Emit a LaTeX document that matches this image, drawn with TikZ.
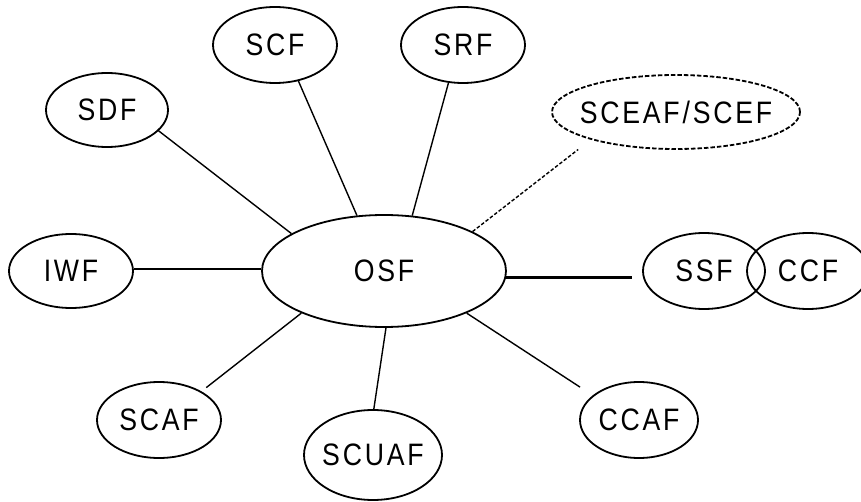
\documentclass[tikz,border=0pt]{standalone}
\usepackage{fontspec}
\setmainfont{Liberation Sans}[FakeStretch=0.86, LetterSpace=9]
\usetikzlibrary{shapes.geometric}

\tikzset{
  fname/.style={font=\fontsize{31}{33}\selectfont, inner sep=0pt},
  func/.style={ellipse, draw, line width=1.8pt, minimum width=124pt,
    minimum height=76pt, label={[fname]center:#1}},
  link/.style={line width=1.4pt},
  bus/.style={line width=2.4pt},
}

\begin{document}
\begin{tikzpicture}[x=1pt, y=-1pt]
\useasboundingbox (0,0) rectangle (861,502);

% Central function
\node[func=OSF, minimum width=244pt, minimum height=112pt] (osf) at (384,271) {};

% Functions around it
\node[func=SCF] (scf) at (275,45) {};
\node[func=SRF] (srf) at (463,45) {};
\node[func=SDF, minimum width=122pt, minimum height=74pt] (sdf) at (107,110) {};
\node[func=SCEAF/SCEF, dash pattern=on 4.5pt off 2pt, minimum width=248pt,
  minimum height=74pt] (scef) at (676,112) {};
\node[func=IWF, minimum height=74pt] (iwf) at (71,271) {};
\node[func=SSF, minimum width=122pt] (ssf) at (704,271) {};
\node[func=CCF, minimum width=122pt] (ccf) at (808,271) {};
\node[func=SCAF] (scaf) at (159,420) {};
\node[func=SCUAF, minimum width=138pt, minimum height=90pt] (scuaf) at (373,455) {};
\node[func=CCAF, minimum width=118pt] (ccaf) at (639,420) {};

% Spokes: angle on OSF / node / angle on node / gap
\foreach \a/\n/\b/\s in {116/scf/303/0, 63/srf/249/0, 158/sdf/338/0,
                         207/scaf/34/6, 272/scuaf/89/0, 333/ccaf/152/15} {
  \draw[link, shorten >=\s pt] (osf.\a) -- (\n.\b);
}

% Optional interface
\draw[link, dash pattern=on 3.5pt off 2pt, shorten >=16pt]
  (osf.24) -- (scef.198);

% Horizontal links
\draw[bus] (osf.179) -- (osf.179 -| iwf.east);
\draw[bus, shorten >=10pt] (osf.-3) -- (osf.-3 -| ssf.west);

\end{tikzpicture}
\end{document}
